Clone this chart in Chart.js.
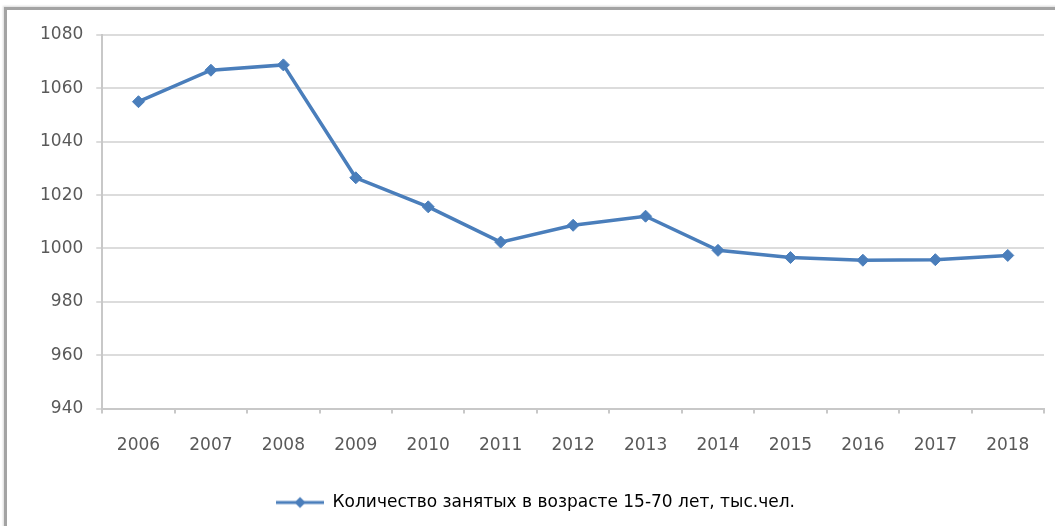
<!DOCTYPE html>
<html lang="ru">
<head>
<meta charset="utf-8">
<title>Количество занятых</title>
<script src="https://cdn.jsdelivr.net/npm/chart.js"></script>
<style>
  body { margin: 0; background: #fff; overflow: hidden; }
  #frame {
    position: absolute; left: 4px; top: 7px; width: 1100px; height: 600px;
    border-left: 3px solid #a3a3a3; border-top: 3px solid #a3a3a3;
    box-shadow: -1px -1px 2px rgba(0,0,0,0.15);
  }
  #wrap { position: absolute; left: 0; top: 0; width: 1055px; height: 526px; }
</style>
</head>
<body>
<div id="frame"></div>
<div id="wrap"><canvas id="chart"></canvas></div>
<script>
  const years = ['2006', '2007', '2008', '2009', '2010', '2011', '2012',
                 '2013', '2014', '2015', '2016', '2017', '2018'];
  const employed = [1055, 1066.8, 1068.8, 1026.5, 1015.6, 1002.4, 1008.7,
                    1012.1, 999.3, 996.6, 995.6, 995.8, 997.4];
  const seriesName = 'Количество занятых в возрасте 15-70 лет, тыс.чел.';
  const blue = '#4a7ebb';
  const grey = '#595959';

  // legend sample: line with a marker in the middle, like in Excel
  const sample = document.createElement('canvas');
  sample.width = 48; sample.height = 14;
  const sc = sample.getContext('2d');
  sc.strokeStyle = blue; sc.lineWidth = 3;
  sc.beginPath(); sc.moveTo(0, 7); sc.lineTo(48, 7); sc.stroke();
  sc.fillStyle = blue;
  sc.beginPath(); sc.moveTo(24, 1.5); sc.lineTo(29.5, 7); sc.lineTo(24, 12.5); sc.lineTo(18.5, 7); sc.closePath(); sc.fill();

  // legend sits lower than the layout would put it
  const shiftLegend = {
    id: 'shiftLegend',
    afterLayout(chart) {
      chart.legend.top += 5;
      chart.legend.bottom += 5;
    }
  };

  new Chart(document.getElementById('chart'), {
    type: 'line',
    data: {
      labels: years,
      datasets: [{
        label: seriesName,
        data: employed,
        borderColor: blue,
        backgroundColor: blue,
        borderWidth: 3.5,
        pointStyle: 'rectRot',
        pointRadius: 6,
        pointBorderWidth: 1,
        tension: 0
      }]
    },
    plugins: [shiftLegend],
    options: {
      responsive: true,
      maintainAspectRatio: false,
      animation: false,
      layout: { padding: { left: 27, right: 11, top: 35, bottom: 10 } },
      plugins: {
        tooltip: { enabled: false },
        legend: {
          position: 'bottom',
          labels: {
            color: grey,
            font: { family: 'DejaVu Sans', size: 17 },
            usePointStyle: true,
            pointStyleWidth: 48,
            padding: 11,
            generateLabels: () => [{
              text: seriesName, pointStyle: sample, fillStyle: blue,
              strokeStyle: blue, lineWidth: 0, datasetIndex: 0
            }]
          }
        }
      },
      scales: {
        x: {
          offset: true,
          grid: { offset: true, drawOnChartArea: false, drawTicks: true, tickLength: 5, color: '#c8c8c8', lineWidth: 2 },
          border: { color: '#c8c8c8', width: 2 },
          ticks: { color: grey, font: { family: 'DejaVu Sans', size: 17 }, padding: 22, maxRotation: 0 }
        },
        y: {
          min: 940, max: 1080,
          grid: { color: '#dcdcdc', lineWidth: 2, tickLength: 6 },
          border: { color: '#c8c8c8', width: 2 },
          ticks: { stepSize: 20, color: grey, font: { family: 'DejaVu Sans', size: 17 }, padding: 13,
                   callback: v => String(v) }
        }
      }
    }
  });
</script>
</body>
</html>
